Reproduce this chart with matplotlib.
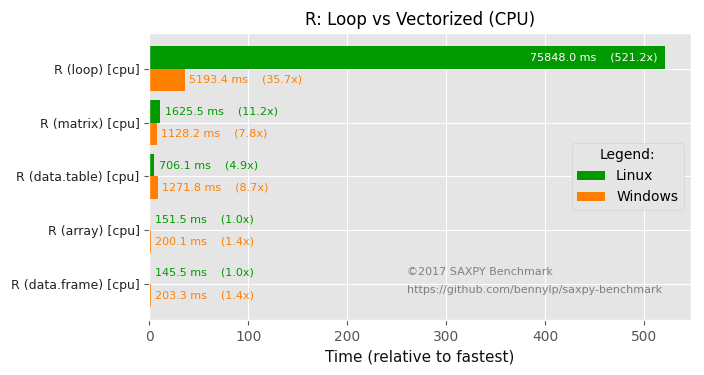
import numpy as np
import matplotlib
matplotlib.use("Agg")
import matplotlib.pyplot as plt

# data
categories = ['R (loop) [cpu]', 'R (matrix) [cpu]', 'R (data.table) [cpu]',
              'R (array) [cpu]', 'R (data.frame) [cpu]']
linux_ms = [75848.0, 1625.5, 706.1, 151.5, 145.5]
linux_rel = [521.2, 11.2, 4.9, 1.0, 1.0]
windows_ms = [5193.4, 1128.2, 1271.8, 200.1, 203.3]
windows_rel = [35.7, 7.8, 8.7, 1.4, 1.4]

plt.style.use('ggplot')
green = '#009900'
orange = '#ff8000'

fig, ax = plt.subplots(figsize=(7.04, 3.75), dpi=100)
y = np.arange(len(categories))
h = 0.42

ax.barh(y - h / 2, linux_rel, height=h, color=green, label='Linux')
ax.barh(y + h / 2, windows_rel, height=h, color=orange, label='Windows')

xmax = 547
for i in range(len(categories)):
    txt = '%.1f ms    (%.1fx)' % (linux_ms[i], linux_rel[i])
    if linux_rel[i] > 0.5 * xmax:
        ax.text(linux_rel[i] - 8, y[i] - h / 2, txt, color='white',
                ha='right', va='center', fontsize=8)
    else:
        ax.text(linux_rel[i] + 4.5, y[i] - h / 2, txt, color=green,
                ha='left', va='center', fontsize=8)
    txt = '%.1f ms    (%.1fx)' % (windows_ms[i], windows_rel[i])
    ax.text(windows_rel[i] + 4.5, y[i] + h / 2, txt, color=orange,
            ha='left', va='center', fontsize=8)

ax.set_yticks(y)
ax.set_yticklabels(categories, fontsize=9, color='#222222')
ax.set_ylim(len(categories) - 1 + 0.66, -0.66)
ax.set_xlim(0, xmax)
ax.tick_params(axis='x', labelsize=10)
ax.set_xlabel('Time (relative to fastest)', fontsize=11, color='#111111')
ax.set_title('R: Loop vs Vectorized (CPU)', fontsize=12, color='black')

leg = ax.legend(title='Legend:', loc='center right', fontsize=10,
                title_fontsize=10, bbox_to_anchor=(1.0, 0.5),
                facecolor='#e5e5e5', edgecolor='#d5d5d5', framealpha=1)
for t in leg.get_texts():
    t.set_color('black')

ax.text(0.476, 0.155, '©2017 SAXPY Benchmark', transform=ax.transAxes,
        fontsize=8, color='gray')
ax.text(0.476, 0.095, 'https://github.com/bennylp/saxpy-benchmark',
        transform=ax.transAxes, fontsize=8, color='gray')

plt.subplots_adjust(left=0.212, right=0.981, top=0.912, bottom=0.147)
fig.savefig('out.png')
